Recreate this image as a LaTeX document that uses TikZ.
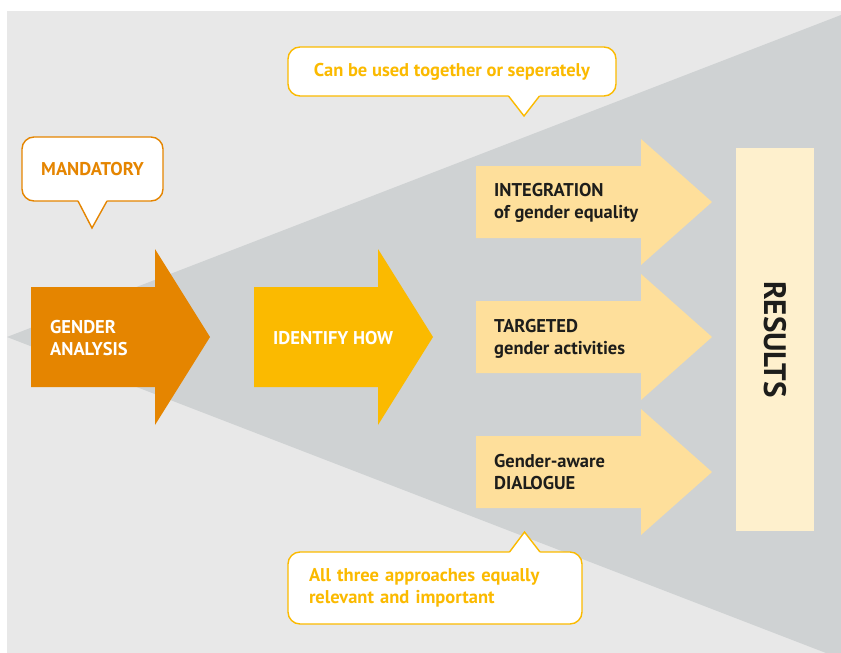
\documentclass[tikz,border=0pt]{standalone}
\usepackage{fontspec}
\setmainfont{PT Sans}
\definecolor{bggray}{HTML}{E8E8E8}
\definecolor{conegray}{HTML}{CFD2D3}
\definecolor{analysisorange}{HTML}{E58500}
\definecolor{howyellow}{HTML}{FBBA00}
\definecolor{waylight}{HTML}{FEDF9B}
\definecolor{resultlight}{HTML}{FEF0CD}
\definecolor{darktext}{HTML}{1D1D1B}
\begin{document}
\begin{tikzpicture}[x=1pt,y=-1pt,font=\bfseries\fontsize{18.5}{22}\selectfont,
  bubble/.style={draw,fill=white,line width=1.4pt,rounded corners=12pt,align=center,inner sep=0pt},
  armtext/.style={anchor=west,align=left,inner sep=0pt}]
\useasboundingbox (0,0) rectangle (841,653);
\fill[bggray] (7,11) rectangle (841,653);
\fill[conegray] (7,337) -- (841,15) -- (841,653) -- (826,653) -- cycle;

\fill[analysisorange] (31,287) -- (155,287) -- (155,249) -- (210,337) -- (155,425) -- (155,387) -- (31,387) -- cycle;
\node[armtext,text=white] (analysis) at (50,338) {GENDER\\ANALYSIS};

\fill[howyellow] (254,287) -- (378,287) -- (378,249) -- (433,337) -- (378,425) -- (378,387) -- (254,387) -- cycle;
\node[armtext,text=white] (how) at (273,338) {IDENTIFY HOW};

\foreach \y in {202,337,472}
\fill[waylight] (476,\y-36) -- (641,\y-36) -- (641,\y-63) -- (712,\y) -- (641,\y+63) -- (641,\y+36) -- (476,\y+36) -- cycle;
\node[armtext,text=darktext] (integration) at (494,202.5) {INTEGRATION\\of gender equality};
\node[armtext,text=darktext] (targeted) at (494,338.5) {TARGETED\\gender activities};
\node[armtext,text=darktext] (dialogue) at (494,472.5) {Gender-aware\\DIALOGUE};

\node[fill=resultlight,minimum width=383,minimum height=78,inner sep=0pt,rotate=-90,
  text=darktext,font=\bfseries\fontsize{31}{33}\selectfont] (results) at (775,339.5) {RESULTS};

\node[bubble,draw=analysisorange,text=analysisorange,minimum width=141,minimum height=64] (mandatory) at (92.5,169) {MANDATORY};
\fill[white] (78,199) -- (107,199) -- (107,201) -- (92,228) -- (78,201) -- cycle;
\draw[analysisorange,line width=1.4pt] (78,201) -- (92,228) -- (107,201);

\node[bubble,draw=howyellow,text=howyellow,minimum width=328,minimum height=49] (together) at (452,71.5) {Can be used together or seperately};
\fill[white] (508.5,94) -- (539.5,94) -- (539.5,96) -- (524,116) -- (508.5,96) -- cycle;
\draw[howyellow,line width=1.4pt] (508.5,96) -- (524,116) -- (539.5,96);

\node[bubble,draw=howyellow,text=howyellow,align=left,text width=252,inner xsep=21pt,minimum height=72] (equally) at (435,588) {All three approaches equally\\relevant and important};
\fill[white] (509.5,554) -- (540,554) -- (540,552) -- (524.5,532) -- (509.5,552) -- cycle;
\draw[howyellow,line width=1.4pt] (509.5,552) -- (524.5,532) -- (540,552);
\end{tikzpicture}
\end{document}
